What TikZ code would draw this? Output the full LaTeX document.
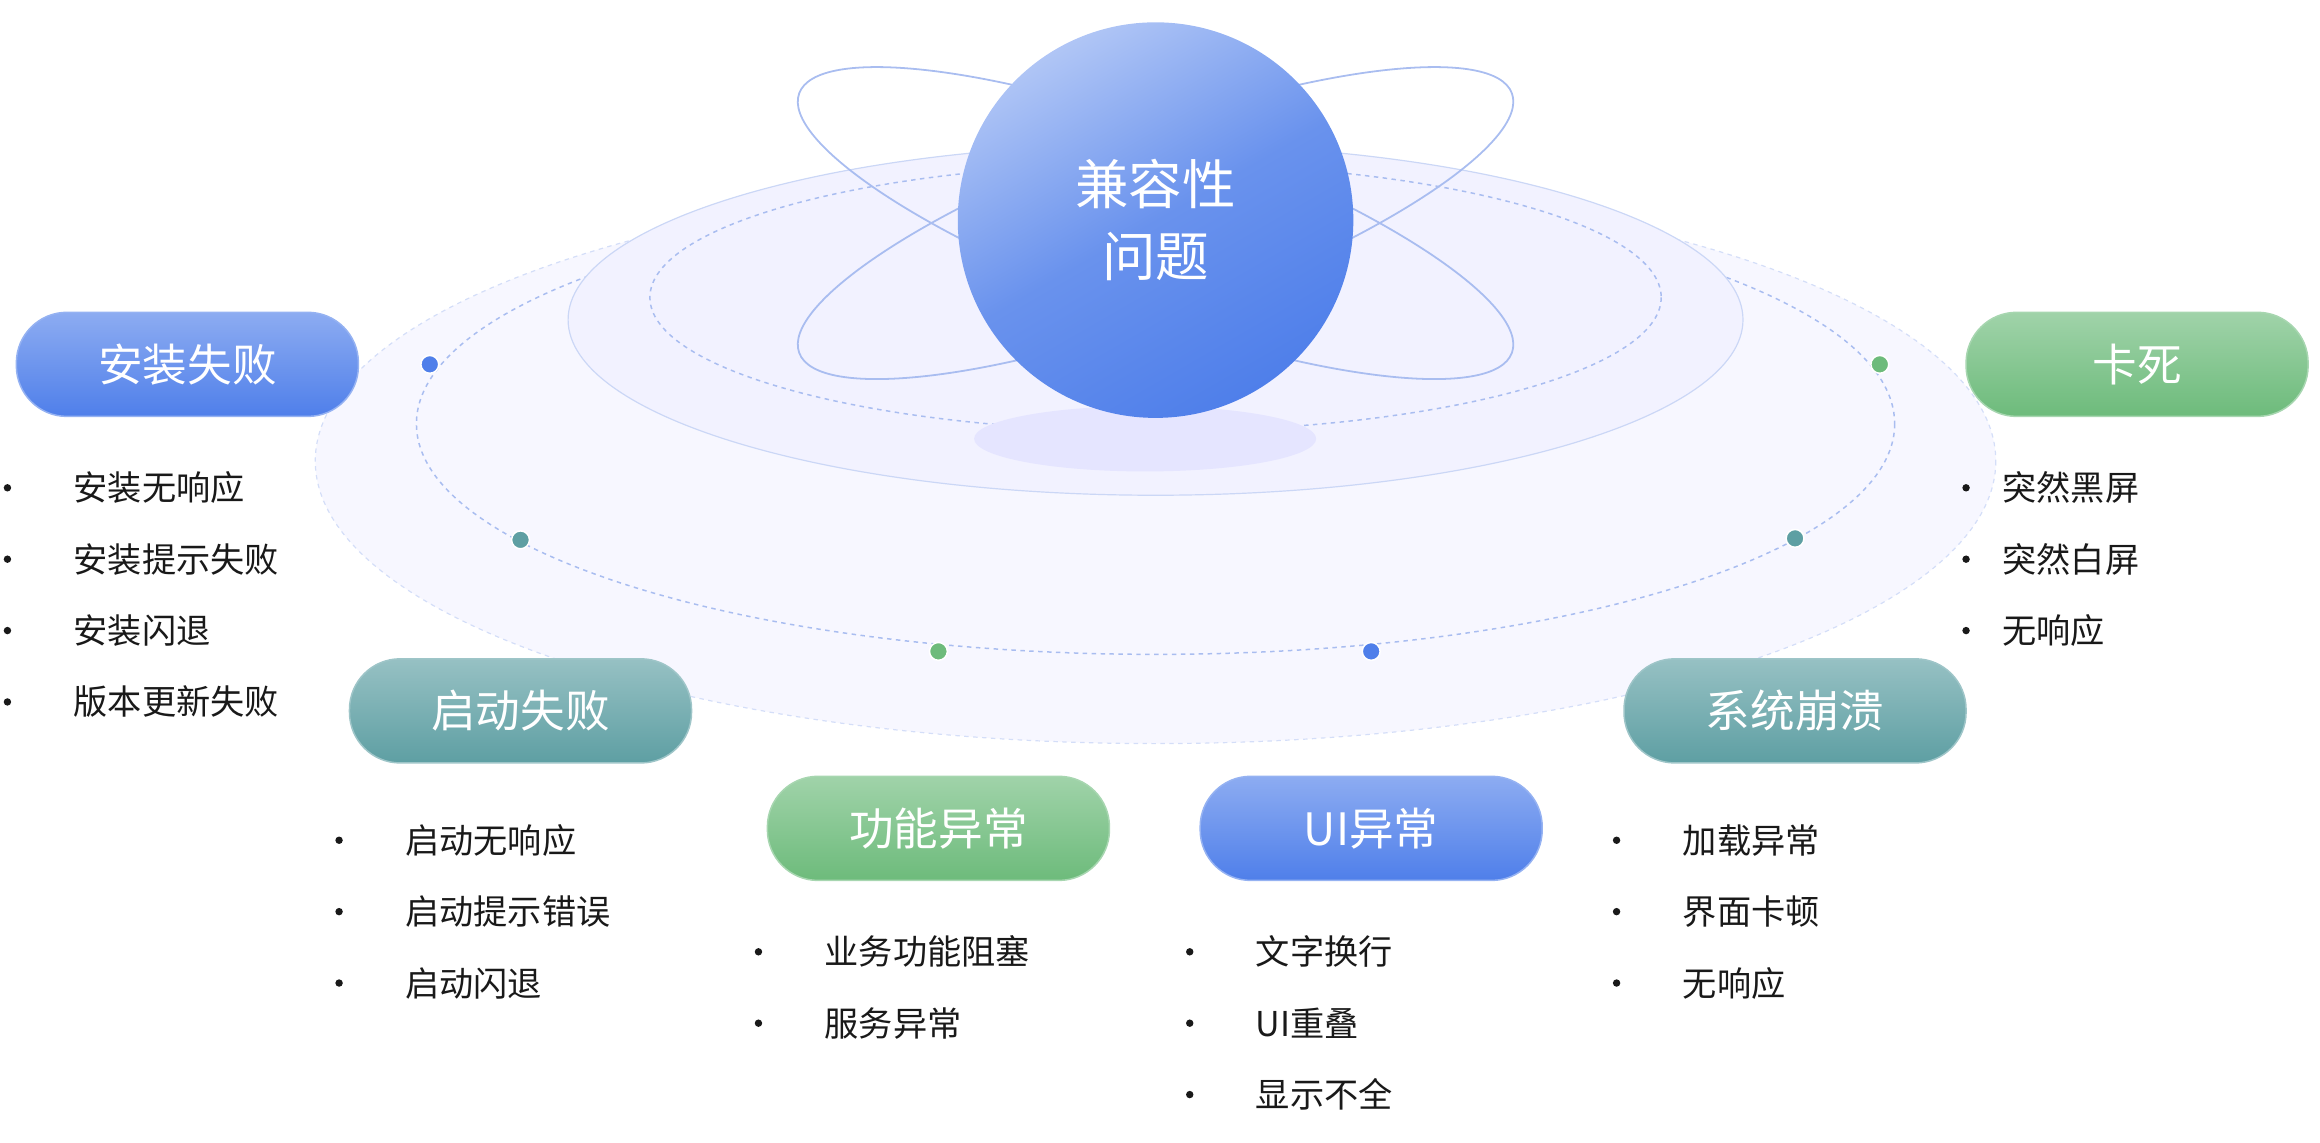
\documentclass[tikz,border=0pt]{standalone}
\usepackage{fontspec}
\setmainfont{Noto Sans CJK SC}
\usetikzlibrary{shapes.geometric}
\definecolor{cblue}{HTML}{4F7FEA}
\definecolor{cteal}{HTML}{5E9FA3}
\definecolor{cgreen}{HTML}{6DBB7B}
\definecolor{orb}{HTML}{A9BDF0}
\tikzset{
 pill/.style={rounded corners=34pt,minimum width=230pt,minimum height=70pt,text=white,font=\fontsize{30}{32}\selectfont,draw=#1!60!white,line width=1pt,top color=#1!65!white,bottom color=#1},
 item/.style={anchor=west,font=\fontsize{23}{26}\selectfont,text=black!90},
 bul/.style={circle,fill=black!90,inner sep=0pt,minimum size=5pt},
 dot/.style={circle,inner sep=0pt,minimum size=12pt,fill=#1,draw=white,line width=1pt},
}
\newcommand{\lst}[4]{% x bullet, x text, y start, items
 \foreach \t [count=\i from 0] in {#4}{
  \node[bul] (b#1\i) at (#1,{#3+48*\i}) {};
  \node[item] (t#1\i) at (#2,{#3+48*\i}) {\t};}}
\begin{document}
\begin{tikzpicture}[x=1pt,y=-1pt]
\useasboundingbox (0,0) rectangle (1560,768);
\fill[blue!3] (777,310) ellipse [x radius=565,y radius=190];
\draw[orb!50,dashed,line width=0.8pt] (777,310) ellipse [x radius=565,y radius=190];
\draw[orb,dashed,line width=1pt] (777,285) ellipse [x radius=497,y radius=155];
\fill[blue!5] (777,215) ellipse [x radius=395,y radius=118];
\draw[orb!60,line width=0.8pt] (777,215) ellipse [x radius=395,y radius=118];
\draw[orb,dashed,line width=1pt] (777,200) ellipse [x radius=340,y radius=90];
\fill[blue!10] (770,295) ellipse [x radius=115,y radius=22];
\draw[orb,line width=1.2pt,rotate around={20:(777,150)}] (777,150) ellipse [x radius=255,y radius=62];
\draw[orb,line width=1.2pt,rotate around={-20:(777,150)}] (777,150) ellipse [x radius=255,y radius=62];
\node[circle,minimum size=266pt,inner sep=0pt,top color=cblue!45!white,bottom color=cblue,middle color=cblue!85!white,shading angle=30,text=white,align=center,font=\fontsize{36}{48}\selectfont] (core) at (777,148) {兼容性\\问题};
\node[dot=cblue] (d1) at (289,245) {};
\node[dot=cteal] (d2) at (350,363) {};
\node[dot=cgreen] (d3) at (631,438) {};
\node[dot=cblue] (d4) at (922,438) {};
\node[dot=cteal] (d5) at (1207,362) {};
\node[dot=cgreen] (d6) at (1264,245) {};
\node[pill=cblue] (p1) at (126,245) {安装失败};
\node[pill=cgreen] (p6) at (1437,245) {卡死};
\node[pill=cteal] (p2) at (350,478) {启动失败};
\node[pill=cteal] (p5) at (1207,478) {系统崩溃};
\node[pill=cgreen] (p3) at (631,557) {功能异常};
\node[pill=cblue] (p4) at (922,557) {UI异常};
\lst{5}{46}{328}{安装无响应,安装提示失败,安装闪退,版本更新失败}
\lst{228}{269}{565}{启动无响应,启动提示错误,启动闪退}
\lst{510}{551}{640}{业务功能阻塞,服务异常}
\lst{800}{841}{640}{文字换行,UI重叠,显示不全}
\lst{1087}{1128}{565}{加载异常,界面卡顿,无响应}
\lst{1322}{1343}{328}{突然黑屏,突然白屏,无响应}
\end{tikzpicture}
\end{document}
